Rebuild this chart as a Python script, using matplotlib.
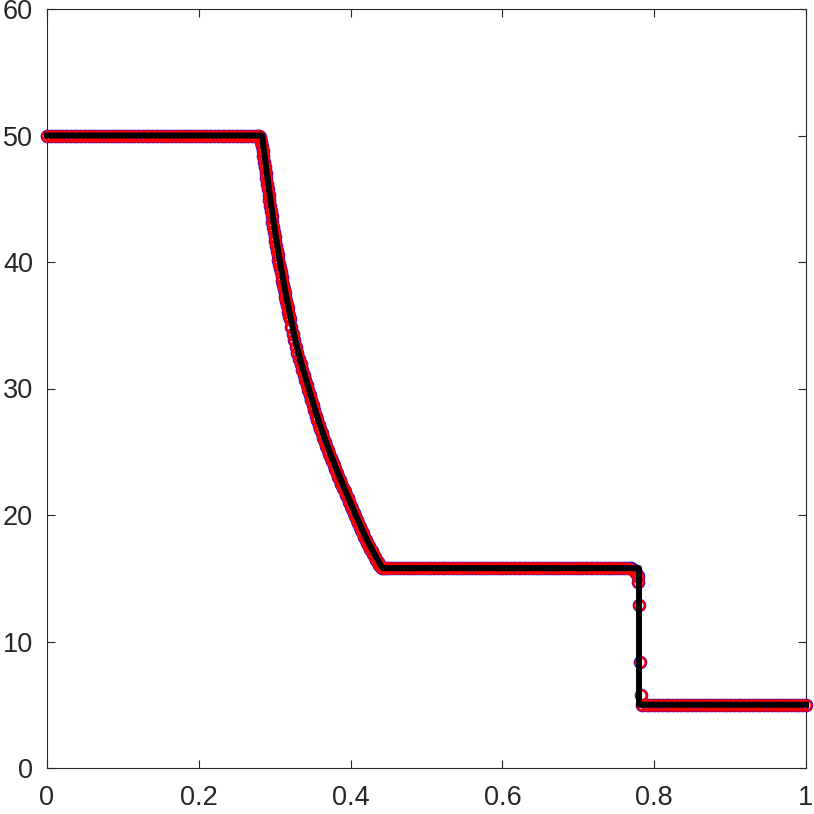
import numpy as np
import matplotlib
matplotlib.use("Agg")
import matplotlib.pyplot as plt

plt.rcParams['font.family'] = ['Liberation Sans', 'DejaVu Sans']

# ---------------- data ----------------
# exact solution (black line) vertices
x_exact = [0.0, 0.2833, 0.290, 0.295, 0.300, 0.305, 0.310, 0.315, 0.320, 0.325,
           0.330, 0.335, 0.340, 0.345, 0.350, 0.355, 0.360, 0.365, 0.370, 0.375,
           0.380, 0.385, 0.390, 0.395, 0.400, 0.405, 0.410, 0.415, 0.420, 0.425,
           0.430, 0.435, 0.440, 0.4425, 0.780, 0.780, 1.0]
y_exact = [50.0, 50.0, 46.86, 44.65, 42.55, 40.7, 39.0, 37.35, 35.9, 34.45,
           33.15, 32.0, 31.0, 29.95, 28.95, 27.95, 27.05, 26.2, 25.4, 24.6,
           23.85, 23.1, 22.38, 21.66, 20.95, 20.25, 19.56, 18.88, 18.23, 17.63,
           17.07, 16.53, 16.0, 15.8, 15.8, 5.0, 5.0]

# numerical solutions: constant states
left_level = 50.0
mid_level = 15.8
right_level = 5.0
x_left = np.round(np.arange(0.0, 0.2751, 0.005), 4)
x_mid = np.round(np.arange(0.450, 0.7651, 0.005), 4)
x_right = np.round(np.arange(0.790, 1.0001, 0.005), 4)

# numerical solutions: rarefaction fan
x_fan = [0.278, 0.279, 0.280, 0.281, 0.282, 0.283, 0.284, 0.285, 0.286, 0.287,
         0.288, 0.289, 0.290, 0.291, 0.292, 0.293, 0.294, 0.295, 0.296, 0.297,
         0.298, 0.299, 0.300, 0.301, 0.302, 0.303, 0.304, 0.305, 0.306, 0.307,
         0.308, 0.309, 0.310, 0.311, 0.312, 0.313, 0.314, 0.315, 0.316, 0.317,
         0.318, 0.319, 0.320,
         0.322, 0.324, 0.326, 0.328, 0.330, 0.332, 0.334, 0.336, 0.338, 0.340,
         0.342, 0.344, 0.346, 0.348, 0.350, 0.352, 0.354, 0.356, 0.358, 0.360,
         0.362, 0.364, 0.366, 0.368, 0.370, 0.372, 0.374, 0.376, 0.378, 0.380,
         0.382, 0.384, 0.386, 0.388, 0.390, 0.392, 0.394, 0.396, 0.398, 0.400,
         0.402, 0.404, 0.406, 0.408, 0.410, 0.412, 0.414, 0.416, 0.418, 0.420,
         0.422, 0.424, 0.426, 0.428, 0.430, 0.432, 0.434, 0.436, 0.438, 0.440,
         0.442, 0.444, 0.446]
y_fan = [50.0, 49.97, 49.9, 49.75, 49.5, 49.15, 48.75, 48.35, 47.92, 47.5,
         47.06, 46.62, 46.2, 45.76, 45.32, 44.87, 44.44, 44.02, 43.6, 43.18,
         42.76, 42.37, 42.0, 41.63, 41.26, 40.89, 40.53, 40.19, 39.85, 39.51,
         39.17, 38.84, 38.51, 38.18, 37.85, 37.52, 37.2, 36.91, 36.62, 36.33,
         36.04, 35.76, 35.47,
         34.89, 34.32, 33.8, 33.28, 32.8, 32.35, 31.9, 31.5, 31.1, 30.69,
         30.27, 29.86, 29.48, 29.1, 28.69, 28.27, 27.86, 27.5, 27.14, 26.8,
         26.46, 26.12, 25.8, 25.48, 25.16, 24.84, 24.53, 24.23, 23.93, 23.63,
         23.33, 23.03, 22.74, 22.45, 22.16, 21.88, 21.59, 21.31, 21.02, 20.74,
         20.46, 20.18, 19.9, 19.63, 19.36, 19.09, 18.82, 18.56, 18.3, 18.05,
         17.81, 17.57, 17.35, 17.12, 16.91, 16.7, 16.48, 16.27, 16.05, 15.9,
         15.82, 15.8, 15.8]

# numerical solutions: shock region
x_shock = [0.770, 0.774, 0.776, 0.778, 0.779, 0.780, 0.781, 0.782, 0.784]
y_shock_blue = [15.8, 15.65, 15.45, 15.15, 14.7, 12.85, 8.35, 5.8, 5.0]
y_shock_red = [15.75, 15.6, 15.4, 15.1, 14.7, 12.9, 8.4, 5.8, 5.0]

x_ticks = [0, 0.2, 0.4, 0.6, 0.8, 1.0]
x_tick_labels = ['0', '0.2', '0.4', '0.6', '0.8', '1']
y_ticks = [0, 10, 20, 30, 40, 50, 60]
y_tick_labels = ['0', '10', '20', '30', '40', '50', '60']

# ---------------- assemble series ----------------
x_num = np.concatenate([x_left, x_fan, x_mid, x_shock, x_right])
y_blue = np.concatenate([np.full(len(x_left), left_level), y_fan,
                         np.full(len(x_mid), mid_level), y_shock_blue,
                         np.full(len(x_right), right_level)])
y_red = np.concatenate([np.full(len(x_left), left_level), y_fan,
                        np.full(len(x_mid), mid_level), y_shock_red,
                        np.full(len(x_right), right_level)])

# ---------------- plot ----------------
fig = plt.figure(figsize=(8.14, 8.14), dpi=100)
ax = fig.add_axes([47 / 814, 46 / 814, 759 / 814, 759 / 814])

ax.plot(x_num, y_blue, linestyle='none', marker='o', markersize=8.3,
        markeredgewidth=1.5, markerfacecolor='none', markeredgecolor='#0000ff',
        clip_on=False, zorder=3)
ax.plot(x_num, y_red, linestyle='none', marker='o', markersize=7.3,
        markeredgewidth=1.7, markerfacecolor='none', markeredgecolor='#ff0000',
        clip_on=False, zorder=4)
ax.plot(x_exact, y_exact, color='black', linewidth=4.3, zorder=5,
        clip_on=False)

ax.set_xlim(0, 1)
ax.set_ylim(0, 60)
ax.set_xticks(x_ticks)
ax.set_xticklabels(x_tick_labels)
ax.set_yticks(y_ticks)
ax.set_yticklabels(y_tick_labels)

gray = '#262626'
for s in ax.spines.values():
    s.set_color(gray)
    s.set_linewidth(0.8)
ax.tick_params(direction='in', top=True, right=True, length=5.8, width=0.8,
               colors=gray, labelsize=19.5)
ax.tick_params(axis='y', pad=10)
ax.tick_params(axis='x', pad=12)

fig.savefig('out.png', dpi=100)
